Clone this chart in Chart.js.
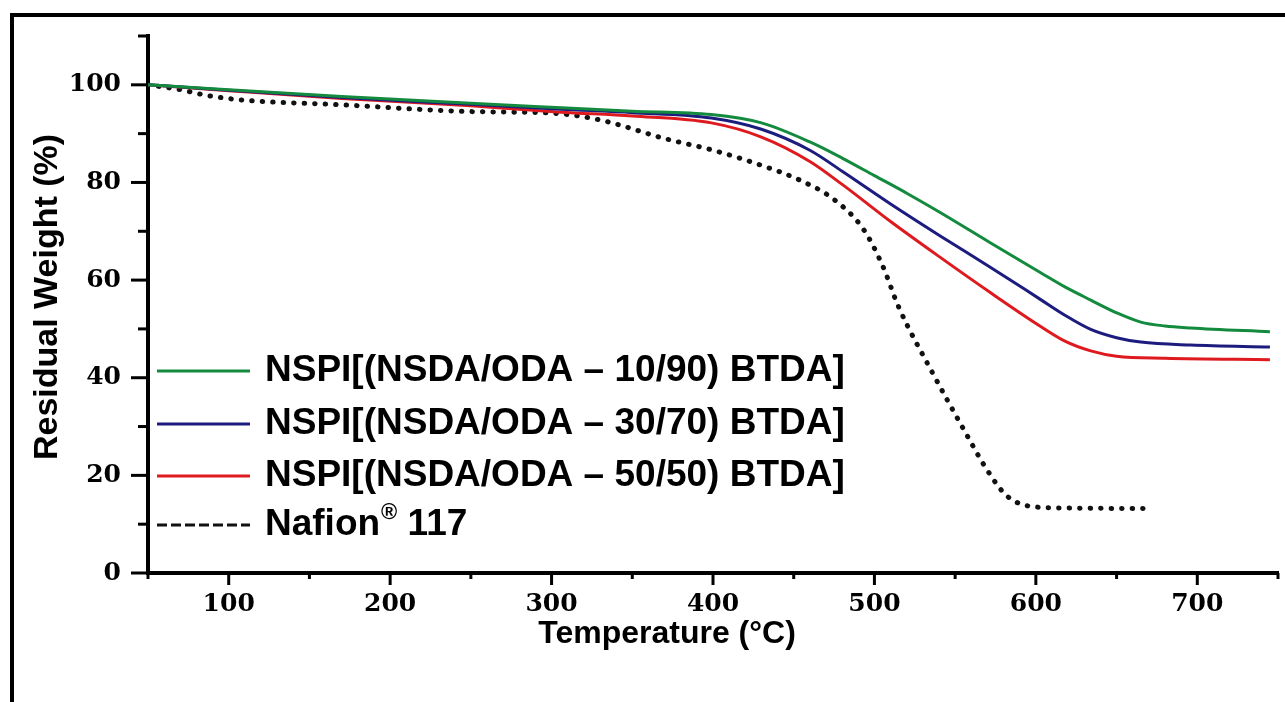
<!DOCTYPE html>
<html>
<head>
<meta charset="utf-8">
<script src="https://cdn.jsdelivr.net/npm/chart.js@4.4.1/dist/chart.umd.min.js"></script>
<style>
  html, body { margin: 0; padding: 0; background: #fff; overflow: hidden; }
  #wrap { position: relative; width: 1285px; height: 702px; }
</style>
</head>
<body>
<div id="wrap"><canvas id="tga"></canvas></div>
<script>
// TGA curves: temperature (°C) -> residual weight (%)
const temp1090 = [50, 100, 170, 250, 306, 350, 399, 430, 460, 480, 500, 520, 541, 572, 603, 618, 634, 650, 665, 680, 696, 745];
const weight1090 = [100, 99.0, 97.6, 96.2, 95.3, 94.6, 93.9, 92.2, 88.3, 85.0, 81.4, 77.8, 73.8, 67.6, 61.5, 58.6, 55.9, 53.3, 51.4, 50.6, 50.2, 49.4];

const temp3070 = [50, 100, 170, 250, 306, 350, 399, 430, 460, 480, 510, 541, 572, 603, 618, 634, 650, 665, 696, 745];
const weight3070 = [100, 98.9, 97.4, 96.0, 95.0, 94.3, 93.2, 90.9, 86.6, 82.3, 75.6, 69.0, 62.6, 56.0, 52.8, 49.9, 48.2, 47.3, 46.7, 46.3];

const temp5050 = [50, 100, 170, 250, 306, 350, 399, 430, 460, 480, 510, 541, 572, 603, 618, 634, 650, 680, 745];
const weight5050 = [100, 98.8, 97.2, 95.7, 94.4, 93.6, 92.2, 89.3, 84.3, 79.6, 72.0, 64.6, 57.4, 50.5, 47.5, 45.5, 44.4, 44.0, 43.7];

const tempNafion = [50, 70, 87, 108, 170, 252, 300, 330, 370, 400, 430, 455, 475, 493, 505, 515, 536, 556, 570, 582, 598, 620, 669];
const weightNafion = [100, 99.0, 97.8, 96.9, 95.9, 94.5, 94.2, 92.8, 89.0, 86.6, 83.5, 80.3, 76.5, 70.5, 63.0, 54.5, 41.0, 29.0, 21.0, 15.8, 13.6, 13.3, 13.2];

const seriesLabels = [
  'NSPI[(NSDA/ODA \u2013 10/90) BTDA]',
  'NSPI[(NSDA/ODA \u2013 30/70) BTDA]',
  'NSPI[(NSDA/ODA \u2013 50/50) BTDA]',
  'Nafion\u00ae 117'
];
const xTickLabels = [100, 200, 300, 400, 500, 600, 700];
const yTickLabels = [0, 20, 40, 60, 80, 100];

function pts(xs, ys) {
  return xs.map((t, i) => ({ x: t, y: ys[i] }));
}

// frame, tick marks, axis titles and the in-plot legend
const decorations = {
  id: 'decorations',
  beforeDraw(chart) {
    const ctx = chart.ctx;
    ctx.save();
    ctx.strokeStyle = '#000';
    ctx.lineWidth = 4;
    ctx.beginPath();
    ctx.moveTo(12, 710);
    ctx.lineTo(12, 15);
    ctx.lineTo(1300, 15);
    ctx.stroke();
    ctx.restore();
  },
  afterDraw(chart) {
    const ctx = chart.ctx;
    const xs = chart.scales.x, ys = chart.scales.y;
    const area = chart.chartArea;
    ctx.save();
    ctx.strokeStyle = '#000';
    ctx.lineWidth = 3;
    xs.ticks.forEach(t => {
      const px = xs.getPixelForValue(t.value);
      const len = t.value % 100 === 0 ? 12 : 6;
      ctx.beginPath();
      ctx.moveTo(px, area.bottom);
      ctx.lineTo(px, area.bottom + len);
      ctx.stroke();
    });
    ys.ticks.forEach(t => {
      const py = ys.getPixelForValue(t.value);
      const len = t.value % 20 === 0 ? 17 : 10;
      ctx.beginPath();
      ctx.moveTo(area.left - len, py);
      ctx.lineTo(area.left, py);
      ctx.stroke();
    });

    // axis titles
    ctx.fillStyle = '#000';
    ctx.textAlign = 'center';
    ctx.textBaseline = 'middle';
    ctx.font = 'bold 32px "Liberation Sans", Arial, sans-serif';
    ctx.fillText('Temperature (\u00b0C)', 667, 634);
    ctx.save();
    ctx.translate(48, 297);
    ctx.rotate(-Math.PI / 2);
    ctx.font = 'bold 34px "Liberation Sans", Arial, sans-serif';
    ctx.fillText('Residual Weight (%)', 0, 0);
    ctx.restore();

    // legend inside the plot
    const rowY = [371, 424, 476, 525];
    ctx.textAlign = 'left';
    chart.data.datasets.forEach((ds, i) => {
      const y = rowY[i];
      ctx.save();
      ctx.strokeStyle = ds.borderColor;
      ctx.lineWidth = 3;
      ctx.setLineDash(ds.legendDash || []);
      ctx.beginPath();
      ctx.moveTo(157, y);
      ctx.lineTo(250, y);
      ctx.stroke();
      ctx.restore();
      const font = 'bold 37px "Liberation Sans", Arial, sans-serif';
      ctx.font = font;
      const parts = ds.label.split('\u00ae');
      let x = 265;
      ctx.fillText(parts[0], x, y);
      if (parts.length > 1) {
        x += ctx.measureText(parts[0]).width + 1;
        ctx.font = 'bold 22px "Liberation Sans", Arial, sans-serif';
        ctx.fillText('\u00ae', x, y - 12);
        x += ctx.measureText('\u00ae').width;
        ctx.font = font;
        ctx.fillText(parts[1], x, y);
      }
    });
    ctx.restore();
  }
};

const tickFont = { family: '"DejaVu Serif", serif', size: 25, weight: 'bold' };

new Chart(document.getElementById('tga'), {
  type: 'line',
  data: {
    datasets: [
      {
        label: seriesLabels[0],
        data: pts(temp1090, weight1090),
        borderColor: '#138a3e',
        borderWidth: 3
      },
      {
        label: seriesLabels[1],
        data: pts(temp3070, weight3070),
        borderColor: '#1c1c7e',
        borderWidth: 3
      },
      {
        label: seriesLabels[2],
        data: pts(temp5050, weight5050),
        borderColor: '#de1a1f',
        borderWidth: 3
      },
      {
        label: seriesLabels[3],
        data: pts(tempNafion, weightNafion),
        borderColor: '#111',
        borderWidth: 5,
        borderDash: [0.5, 10],
        borderCapStyle: 'round',
        legendDash: [10, 4]
      }
    ]
  },
  options: {
    responsive: true,
    maintainAspectRatio: false,
    animation: false,
    events: [],
    layout: { padding: { top: 36, right: 7, left: 0, bottom: 0 } },
    elements: {
      point: { radius: 0 },
      line: { cubicInterpolationMode: 'monotone', fill: false }
    },
    plugins: {
      legend: { display: false },
      tooltip: { enabled: false }
    },
    scales: {
      x: {
        type: 'linear',
        min: 50,
        max: 750,
        afterFit: s => { s.height = 129; s.paddingLeft = 0; s.paddingRight = 0; },
        border: { display: true, color: '#000', width: 4 },
        grid: { display: false, drawTicks: false },
        ticks: {
          stepSize: 50,
          padding: 16,
          color: '#000',
          font: tickFont,
          maxRotation: 0,
          autoSkip: false,
          callback: v => xTickLabels.includes(v) ? String(v) : ''
        }
      },
      y: {
        min: 0,
        max: 110,
        afterFit: s => { s.width = 148; s.paddingTop = 0; s.paddingBottom = 0; },
        border: { display: true, color: '#000', width: 4 },
        grid: { display: false, drawTicks: false },
        ticks: {
          stepSize: 10,
          padding: 27,
          color: '#000',
          font: tickFont,
          autoSkip: false,
          callback: v => yTickLabels.includes(v) ? String(v) : ''
        }
      }
    }
  },
  plugins: [decorations]
});
</script>
</body>
</html>
